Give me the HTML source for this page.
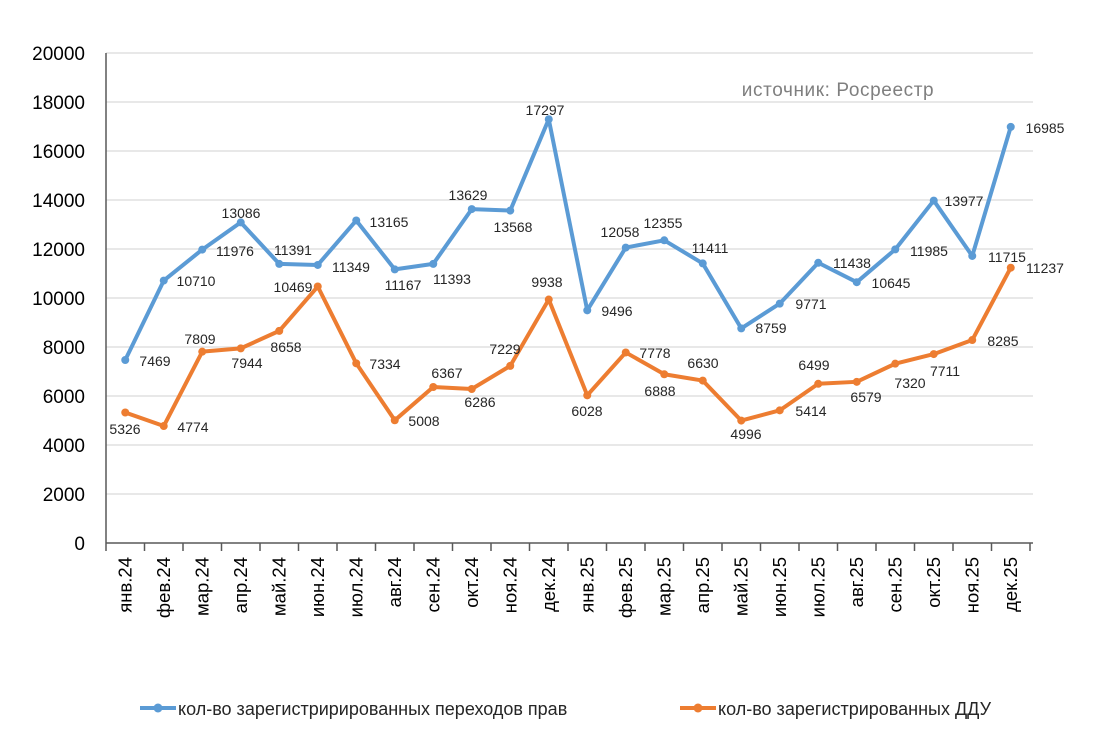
<!DOCTYPE html>
<html><head><meta charset="utf-8"><style>
body{margin:0;background:#fff;}
svg text{font-family:"Liberation Sans","DejaVu Sans",sans-serif;}
</style></head><body>
<svg width="1098" height="740" viewBox="0 0 1098 740" xmlns="http://www.w3.org/2000/svg">
<rect width="1098" height="740" fill="#fff"/>
<g stroke="#d9d9d9" stroke-width="1.3">
<line x1="106" x2="1033" y1="53" y2="53"/><line x1="106" x2="1033" y1="102" y2="102"/><line x1="106" x2="1033" y1="151" y2="151"/><line x1="106" x2="1033" y1="200" y2="200"/><line x1="106" x2="1033" y1="249" y2="249"/><line x1="106" x2="1033" y1="298" y2="298"/><line x1="106" x2="1033" y1="347" y2="347"/><line x1="106" x2="1033" y1="396" y2="396"/><line x1="106" x2="1033" y1="445" y2="445"/><line x1="106" x2="1033" y1="494" y2="494"/>
</g>
<g stroke="#595959" stroke-width="1.5">
<line x1="106" x2="106" y1="53" y2="543"/><line x1="106" x2="1033" y1="543" y2="543"/>
</g>
<g id="ticks" stroke="#595959" stroke-width="1.5"></g>
<g font-size="19" fill="#000" text-anchor="end">
<text x="85" y="60">20000</text><text x="85" y="109">18000</text><text x="85" y="158">16000</text><text x="85" y="207">14000</text><text x="85" y="256">12000</text><text x="85" y="305">10000</text><text x="85" y="354">8000</text><text x="85" y="403">6000</text><text x="85" y="452">4000</text><text x="85" y="501">2000</text><text x="85" y="550">0</text>
</g>
<g id="xl" font-size="18.5" fill="#000" text-anchor="end"></g>
<text x="838" y="96" font-size="19" letter-spacing="0.6" fill="#7f7f7f" text-anchor="middle">источник: Росреестр</text>
<polyline id="pb" fill="none" stroke="#5b9bd5" stroke-width="4" stroke-linejoin="round"/>
<polyline id="po" fill="none" stroke="#ed7d31" stroke-width="4" stroke-linejoin="round"/>
<g id="mk"></g>
<g id="lb" font-size="14" fill="#262626" text-anchor="middle"></g>
<line x1="140" x2="176" y1="708" y2="708" stroke="#5b9bd5" stroke-width="4"/><circle cx="158" cy="708" r="4.5" fill="#5b9bd5"/>
<text x="178" y="715" font-size="18" fill="#262626">кол-во зарегистрирированных переходов прав</text>
<line x1="680" x2="716" y1="708" y2="708" stroke="#ed7d31" stroke-width="4"/><circle cx="698" cy="708" r="4.5" fill="#ed7d31"/>
<text x="718" y="715" font-size="18" fill="#262626">кол-во зарегистрированных ДДУ</text>
</svg>
<script>
var ns="http://www.w3.org/2000/svg";
function el(p,t,a,tx){var e=document.createElementNS(ns,t);for(var k in a)e.setAttribute(k,a[k]);if(tx)e.textContent=tx;document.getElementById(p).appendChild(e);}
var m=["янв","фев","мар","апр","май","июн","июл","авг","сен","окт","ноя","дек"];
var B=[7469,10710,11976,13086,11391,11349,13165,11167,11393,13629,13568,17297,9496,12058,12355,11411,8759,9771,11438,10645,11985,13977,11715,16985];
var O=[5326,4774,7809,7944,8658,10469,7334,5008,6367,6286,7229,9938,6028,7778,6888,6630,4996,5414,6499,6579,7320,7711,8285,11237];
var bl=[[155,366],[196,286],[235,256],[241,218],[293,255],[351,272],[389,227],[403,290],[452,284],[468,200],[513,232],[545,115],[617,316],[620,237],[663,228],[710,253],[771,333],[811,309],[852,268],[891,288],[929,256],[964,206],[1007,262],[1045,133]];
var ol=[[125,434],[193,432],[200,344],[247,368],[286,352],[293,292],[385,369],[424,426],[447,378],[480,407],[505,354],[547,287],[587,416],[655,358],[660,396],[703,368],[746,439],[811,416],[814,370],[866,402],[910,388],[945,376],[1003,346],[1045,273]];
var pb=[],po=[];
for(var i=0;i<=24;i++)el("ticks","line",{x1:106+38.5*i,x2:106+38.5*i,y1:543,y2:551});
for(var i=0;i<24;i++){
 var x=125.25+38.5*i;
 el("xl","text",{transform:"translate("+(x+6)+",557) rotate(-90)"},m[i%12]+"."+(i<12?"24":"25"));
 var yb=543-B[i]*0.0245,yo=543-O[i]*0.0245;
 pb.push(x+","+yb);po.push(x+","+yo);
 el("mk","circle",{cx:x,cy:yb,r:4,fill:"#5b9bd5"});
 el("mk","circle",{cx:x,cy:yo,r:4,fill:"#ed7d31"});
 el("lb","text",{x:bl[i][0],y:bl[i][1]},B[i]);
 el("lb","text",{x:ol[i][0],y:ol[i][1]},O[i]);
}
document.getElementById("pb").setAttribute("points",pb.join(" "));
document.getElementById("po").setAttribute("points",po.join(" "));
</script>
</body></html>
